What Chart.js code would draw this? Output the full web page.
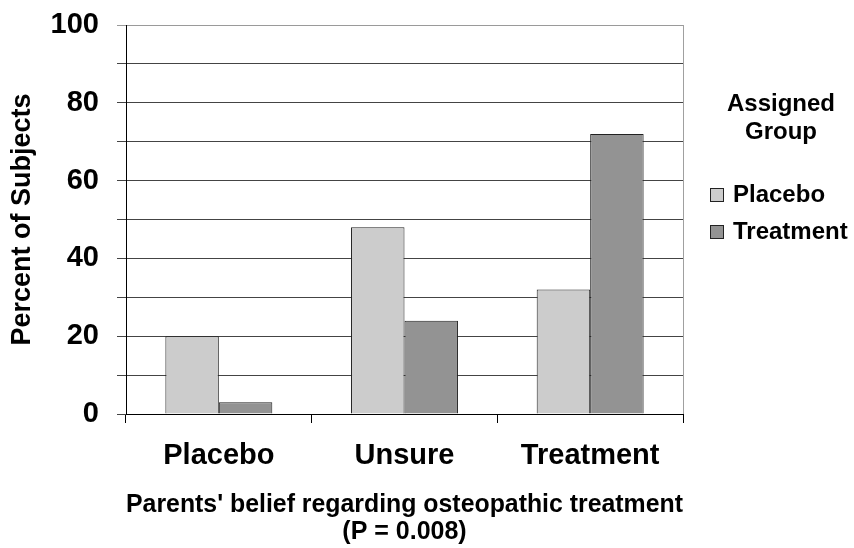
<!DOCTYPE html>
<html>
<head>
    <title>Parents' belief vs assigned group</title>
    <style>
        body {
            margin: 0;
            padding: 0;
            background: #fff;
        }
        #wrap {
            width: 854px;
            height: 548px;
        }
    </style>
</head>
<body>
    <div id="wrap"><canvas id="beliefChart" width="854" height="548"></canvas></div>
    <script src="https://cdn.jsdelivr.net/npm/chart.js"></script>
    <script>
        var categories = ['Placebo', 'Unsure', 'Treatment'];
        var placeboGroup = [20, 48, 32];
        var treatmentGroup = [3, 24, 72];
        var yTicks = [0, 20, 40, 60, 80, 100];

        var FONT = '"Liberation Sans", Arial, sans-serif';

        // legend + right border drawn by hand
        var extras = {
            id: 'extras',
            afterDraw: function(chart) {
                var ctx = chart.ctx;
                var area = chart.chartArea;
                ctx.save();
                ctx.strokeStyle = '#a0a0a0';
                ctx.lineWidth = 1;
                ctx.beginPath();
                ctx.moveTo(Math.round(area.right) + 0.5, area.top);
                ctx.lineTo(Math.round(area.right) + 0.5, area.bottom);
                ctx.stroke();

                ctx.fillStyle = '#000';
                ctx.font = 'bold 24px ' + FONT;
                ctx.textAlign = 'center';
                ctx.textBaseline = 'middle';
                ctx.fillText('Assigned', 781, 104);
                ctx.fillText('Group', 781, 132);

                var rows = [195, 232];
                chart.data.datasets.forEach(function(ds, i) {
                    var y = rows[i];
                    ctx.fillStyle = ds.backgroundColor;
                    ctx.fillRect(710, y - 7, 14, 14);
                    ctx.strokeStyle = '#222';
                    ctx.strokeRect(710.5, y - 6.5, 13, 13);
                    ctx.fillStyle = '#000';
                    ctx.textAlign = 'left';
                    ctx.fillText(ds.label, 733, y);
                });
                ctx.restore();
            }
        };

        new Chart(document.getElementById('beliefChart'), {
            type: 'bar',
            data: {
                labels: categories,
                datasets: [{
                    label: 'Placebo',
                    data: placeboGroup,
                    backgroundColor: '#cccccc',
                    borderColor: '#222',
                    borderWidth: 1
                }, {
                    label: 'Treatment',
                    data: treatmentGroup,
                    backgroundColor: '#939393',
                    borderColor: '#222',
                    borderWidth: 1
                }]
            },
            options: {
                responsive: false,
                animation: false,
                categoryPercentage: 0.576,
                barPercentage: 1,
                layout: {
                    padding: { top: 25, right: 171, left: 0, bottom: 0 }
                },
                plugins: {
                    legend: { display: false },
                    tooltip: { enabled: false }
                },
                scales: {
                    x: {
                        afterFit: function(scale) {
                            scale.height = 134;
                            scale.paddingLeft = 0;
                            scale.paddingRight = 0;
                        },
                        grid: {
                            drawOnChartArea: false,
                            tickLength: 9,
                            color: '#000'
                        },
                        border: { color: '#000', width: 1 },
                        ticks: {
                            color: '#000',
                            padding: 16,
                            font: { family: FONT, size: 29, weight: 'bold' }
                        },
                        title: {
                            display: true,
                            text: ["Parents' belief regarding osteopathic treatment", '(P = 0.008)'],
                            color: '#000',
                            padding: { top: 0, bottom: 3 },
                            font: { family: FONT, size: 25, weight: 'bold', lineHeight: 1.06 }
                        }
                    },
                    y: {
                        min: 0,
                        max: 100,
                        afterFit: function(scale) {
                            scale.width = 126;
                            scale.paddingTop = 0;
                            scale.paddingBottom = 0;
                        },
                        grid: {
                            tickLength: 9,
                            color: function(c) {
                                return c.tick && c.tick.value === 100 ? '#9a9a9a' : '#444';
                            }
                        },
                        border: { color: '#000', width: 1 },
                        ticks: {
                            stepSize: 10,
                            color: '#000',
                            padding: 18,
                            font: { family: FONT, size: 29, weight: 'bold' },
                            callback: function(v) {
                                return yTicks.indexOf(v) >= 0 ? v : '';
                            }
                        },
                        title: {
                            display: true,
                            text: 'Percent of Subjects',
                            color: '#000',
                            padding: { top: 6, bottom: 0 },
                            font: { family: FONT, size: 27, weight: 'bold', lineHeight: 1.2 }
                        }
                    }
                }
            },
            plugins: [extras]
        });
    </script>
</body>
</html>
